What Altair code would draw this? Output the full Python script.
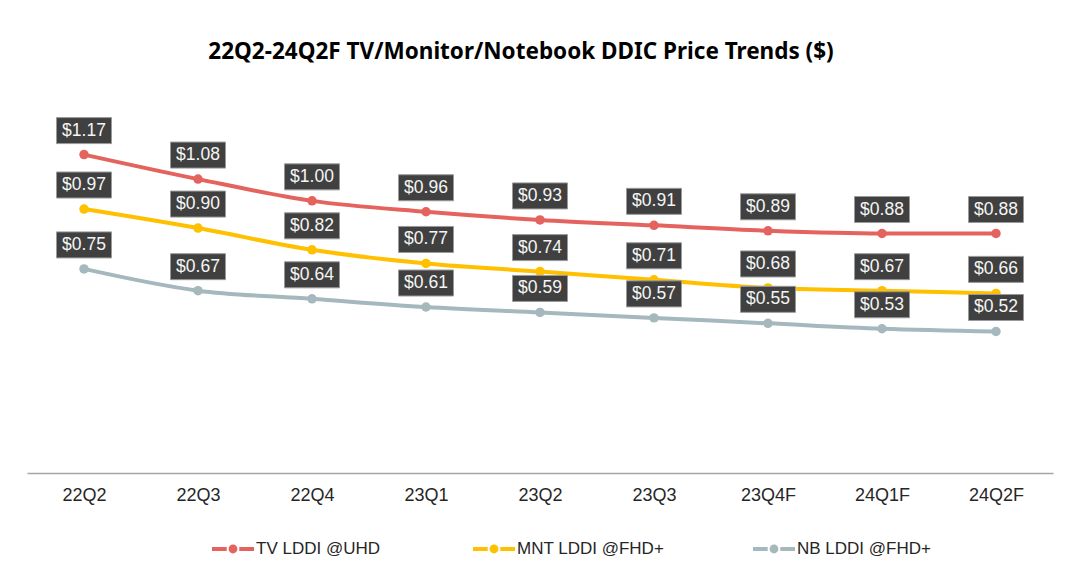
import altair as alt
import pandas as pd

quarters = ["22Q2", "22Q3", "22Q4", "23Q1", "23Q2", "23Q3", "23Q4F", "24Q1F", "24Q2F"]
series_names = ["TV  LDDI @UHD", "MNT LDDI @FHD+", "NB LDDI @FHD+"]
tv = [1.17, 1.08, 1.00, 0.96, 0.93, 0.91, 0.89, 0.88, 0.88]
mnt = [0.97, 0.90, 0.82, 0.77, 0.74, 0.71, 0.68, 0.67, 0.66]
nb = [0.75, 0.67, 0.64, 0.61, 0.59, 0.57, 0.55, 0.53, 0.52]
colors = ["#E5635E", "#FFC000", "#A5B8BE"]

rows = []
for name, vals in zip(series_names, [tv, mnt, nb]):
    for q, v in zip(quarters, vals):
        rows.append({"quarter": q, "series": name, "value": v})
df = pd.DataFrame(rows)

FONT = "Liberation Sans"

x = alt.X("quarter:N", sort=quarters, scale=alt.Scale(type="point", padding=0.5),
          axis=alt.Axis(title=None, labelAngle=0, labelFont=FONT, labelFontSize=18,
                        labelColor="#262626", labelPadding=13, ticks=False,
                        domainColor="#A6A6A6", domainWidth=1.5, grid=False))
y = alt.Y("value:Q", scale=alt.Scale(domain=[0, 1.4], nice=False, zero=True), axis=None)
color_scale = alt.Scale(domain=series_names, range=colors)

legend_sym = ("M-1,-0.095H-0.3V0.095H-1Z M0.3,-0.095H1V0.095H0.3Z "
              "M-0.21,0A0.21,0.21 0 1,0 0.21,0A0.21,0.21 0 1,0 -0.21,0Z")

legend = alt.Legend(title=None, orient="none", direction="horizontal",
                    columns=3, legendX=185, legendY=436,
                    symbolType=legend_sym, symbolSize=1764,
                    symbolStrokeWidth=0, symbolOpacity=1,
                    labelFont=FONT, labelFontSize=17,
                    labelColor="#262626", labelOffset=2,
                    columnPadding=88)

color = alt.Color("series:N", scale=color_scale, sort=series_names, legend=legend)

base = alt.Chart(df)

lines = base.mark_line(strokeWidth=4, interpolate="monotone").encode(
    x=x, y=y, color=color, detail="series:N",
)

points = base.mark_point(filled=True, size=90, opacity=1).encode(
    x=x, y=y, color=color,
)

box_shape = "M-1,-0.473H1V0.473H-1Z"
boxes = base.mark_point(shape=box_shape, size=3025, filled=True, fill="#404040",
                        stroke="#9a9a9a", strokeWidth=1, opacity=1, yOffset=-24).encode(
    x=x, y=y,
)

labels = base.transform_calculate(
    label="'$' + format(datum.value, '.2f')"
).mark_text(font=FONT, fontSize=17.5, color="#F5F5F5", dy=-24, baseline="middle",
            align="center").encode(
    x=x, y=y, text="label:N",
)

chart = alt.layer(lines, points, boxes, labels).properties(
    width=1026, height=381,
    title=alt.TitleParams("22Q2-24Q2F TV/Monitor/Notebook DDIC Price Trends ($)",
                          font="Noto Sans", fontSize=22.5, fontWeight="bold",
                          color="#000000", anchor="middle", offset=29, dx=-19),
    autosize=alt.AutoSizeParams(type="none"),
    padding={"left": 19, "top": 84, "right": 19, "bottom": 98},
).configure(background="white").configure_view(strokeWidth=0, stroke="transparent")

chart.save("out.html", embed_options={"renderer": "svg", "actions": False})
